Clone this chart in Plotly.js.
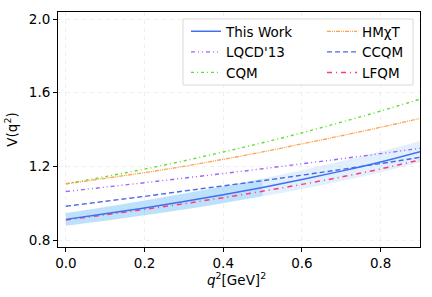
<!DOCTYPE html>
<html>
<head>
<meta charset="utf-8">
<script src="https://cdn.plot.ly/plotly-3.0.1.min.js"></script>
<style>html,body{margin:0;padding:0;background:#fff;}#chart{width:432px;height:297px;}</style>
</head>
<body>
<div id="chart"></div>
<script>
const q2 = [0.0, 0.1, 0.2, 0.3, 0.4, 0.5, 0.6, 0.7, 0.8, 0.9];
const thisWork = [0.912, 0.942, 0.974, 1.009, 1.046, 1.085, 1.128, 1.174, 1.224, 1.280];
const bandLow  = [0.878, 0.905, 0.934, 0.966, 1.000, 1.037, 1.077, 1.121, 1.168, 1.222];
const bandHigh = [0.946, 0.979, 1.014, 1.052, 1.092, 1.133, 1.179, 1.227, 1.280, 1.338];
const lqcd13   = [1.063, 1.087, 1.111, 1.136, 1.161, 1.187, 1.214, 1.241, 1.269, 1.298];
const cqm      = [1.105, 1.144, 1.185, 1.230, 1.278, 1.328, 1.382, 1.440, 1.500, 1.565];
const hmchit   = [1.105, 1.135, 1.166, 1.200, 1.238, 1.278, 1.322, 1.366, 1.412, 1.460];
const ccqm     = [0.983, 1.010, 1.037, 1.066, 1.094, 1.122, 1.152, 1.183, 1.215, 1.249];
const lfqm     = [0.909, 0.937, 0.966, 0.997, 1.030, 1.065, 1.102, 1.142, 1.186, 1.235];
const names = ["This Work", "LQCD'13", "CQM", "HMχT", "CCQM", "LFQM"];
const xTitle = '<i>q</i><sup>2</sup>[GeV]<sup>2</sup>';
const yTitle = 'V(q<sup>2</sup>)';

const FONT = "DejaVu Sans, sans-serif";
const darkIdx = [0,1,2,3,4,5];
const lightIdx = [5,6,7,8,9];
function pick(arr, idx){ return idx.map(i => arr[i]); }

const traces = [
  {x: pick(q2, lightIdx), y: pick(bandLow, lightIdx), mode: 'lines', line: {width: 0, shape: 'spline'}, showlegend: false, hoverinfo: 'skip'},
  {x: pick(q2, lightIdx), y: pick(bandHigh, lightIdx), mode: 'lines', line: {width: 0, shape: 'spline'}, fill: 'tonexty', fillcolor: 'rgba(200,228,250,0.55)', showlegend: false, hoverinfo: 'skip'},
  {x: pick(q2, darkIdx), y: pick(bandLow, darkIdx), mode: 'lines', line: {width: 0, shape: 'spline'}, showlegend: false, hoverinfo: 'skip'},
  {x: pick(q2, darkIdx), y: pick(bandHigh, darkIdx), mode: 'lines', line: {width: 0, shape: 'spline'}, fill: 'tonexty', fillcolor: 'rgba(135,200,245,0.55)', showlegend: false, hoverinfo: 'skip'},
  {x: q2, y: cqm, name: names[2], mode: 'lines', legend: 'legend', legendrank: 3, line: {color: '#5ee02a', width: 1.4, dash: '3px,3px,1px,3px', shape: 'spline'}},
  {x: q2, y: hmchit, name: names[3], mode: 'lines', legend: 'legend2', legendrank: 1, line: {color: '#ffa04c', width: 1.3, dash: '4px,1px,1px,1px,1px,1px', shape: 'spline'}},
  {x: q2, y: lqcd13, name: names[1], mode: 'lines', legend: 'legend', legendrank: 2, line: {color: '#a064ff', width: 1.4, dash: '4px,3px,1px,3px,1px,3px', shape: 'spline'}},
  {x: q2, y: ccqm, name: names[4], mode: 'lines', legend: 'legend2', legendrank: 2, line: {color: '#4a68e8', width: 1.4, dash: '5px,3px', shape: 'spline'}},
  {x: q2, y: lfqm, name: names[5], mode: 'lines', legend: 'legend2', legendrank: 3, line: {color: '#ff3a78', width: 1.5, dash: '5px,4px,1px,4px', shape: 'spline'}},
  {x: q2, y: thisWork, name: names[0], mode: 'lines', legend: 'legend', legendrank: 1, line: {color: '#3f6ff0', width: 1.5, shape: 'spline'}}
];

const W = 432, H = 297;
const m = {l: 58, r: 12, t: 12, b: 50};
const pw = W - m.l - m.r, ph = H - m.t - m.b;
function px2x(p){ return (p - m.l) / pw; }
function py2y(p){ return 1 - (p - m.t) / ph; }

const legendCommon = {
  bgcolor: 'rgba(0,0,0,0)', borderwidth: 0,
  font: {family: FONT, size: 13.5, color: '#000'},
  xanchor: 'left', yanchor: 'top', traceorder: 'normal',
  tracegroupgap: 0
};

const layout = {
  width: W, height: H,
  margin: m,
  paper_bgcolor: '#fff', plot_bgcolor: '#fff',
  font: {family: FONT, size: 13.5, color: '#000'},
  showlegend: true,
  xaxis: {
    range: [-0.02, 0.9], tick0: 0, dtick: 0.2, tickformat: '.1f',
    showgrid: true, gridcolor: '#efefef', griddash: '4px,4px', gridwidth: 1,
    zeroline: false, showline: true, linecolor: '#000', linewidth: 1, mirror: true,
    ticks: 'outside', ticklen: 4, tickcolor: '#000', tickwidth: 1,
    tickfont: {family: FONT, size: 13.5}, ticklabelstandoff: 0
  },
  yaxis: {
    range: [0.762, 2.038], tick0: 0.8, dtick: 0.4, tickformat: '.1f',
    showgrid: true, gridcolor: '#efefef', griddash: '4px,4px', gridwidth: 1,
    zeroline: false, showline: true, linecolor: '#000', linewidth: 1, mirror: true,
    ticks: 'outside', ticklen: 4, tickcolor: '#000', tickwidth: 1,
    tickfont: {family: FONT, size: 13.5},
    title: {text: yTitle, font: {family: FONT, size: 13.5}, standoff: 8}
  },
  legend: Object.assign({}, legendCommon, {x: px2x(186), y: py2y(16)}),
  legend2: Object.assign({}, legendCommon, {x: px2x(322), y: py2y(16)}),
  annotations: [{
    text: xTitle, xref: 'paper', yref: 'paper', x: px2x(236), y: py2y(268),
    xanchor: 'center', yanchor: 'top', showarrow: false,
    font: {family: FONT, size: 13.5, color: '#000'}
  }],
  shapes: [{
    type: 'rect', xref: 'paper', yref: 'paper',
    x0: px2x(183), x1: px2x(413), y0: py2y(85), y1: py2y(19),
    line: {color: '#d9d9d9', width: 1}, fillcolor: 'rgba(255,255,255,0.8)', layer: 'above'
  }]
};

Plotly.newPlot('chart', traces, layout, {staticPlot: true, displayModeBar: false});
</script>
</body>
</html>
